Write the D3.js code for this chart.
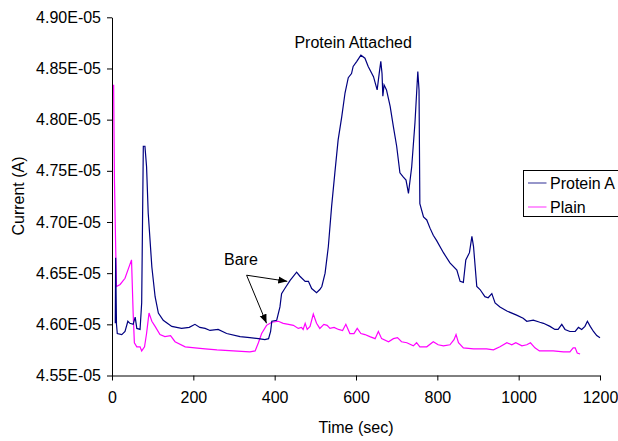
<!DOCTYPE html>
<html>
<head>
<meta charset="utf-8">
<script src="https://cdn.jsdelivr.net/npm/d3@7"></script>
<style>
  html, body { margin: 0; padding: 0; background: #fff; }
  svg { display: block; font-family: "Liberation Sans", Arial, sans-serif; }
</style>
</head>
<body>
<svg id="chart" width="618" height="441"></svg>
<script>
// ---- data (current values in units of 1e-5 A) ----
const UNIT = 1e-5;
const proteinTime = [8,9,11,13,24,32,39,44,52,57,61,69,73,77,81,85,89,98,106,114,126,147,171,190,204,216,229,241,261,282,315,339,360,376,385,390,393,405,413,417,425,438,454,462,475,483,491,503,511,516,524,532,540,548,556,565,573,581,589,593,602,612,622,630,643,652,657,661,664,666,669,675,684,692,700,708,716,723,729,737,745,752,755,757,766,774,782,790,798,815,831,848,856,864,870,879,885,889,897,905,917,925,934,942,954,971,995,1011,1020,1036,1052,1061,1077,1089,1097,1106,1114,1126,1139,1147,1155,1163,1169,1176,1184,1192,1200];
const proteinCurrent = [4.601,4.665,4.600,4.591,4.590,4.593,4.603,4.601,4.600,4.607,4.596,4.595,4.621,4.774,4.774,4.754,4.709,4.656,4.627,4.611,4.604,4.598,4.596,4.597,4.600,4.597,4.596,4.594,4.595,4.591,4.588,4.587,4.586,4.585,4.586,4.593,4.603,4.604,4.617,4.630,4.635,4.643,4.651,4.647,4.642,4.642,4.635,4.631,4.634,4.637,4.650,4.676,4.715,4.748,4.780,4.803,4.826,4.841,4.845,4.852,4.857,4.863,4.860,4.852,4.842,4.829,4.845,4.857,4.845,4.823,4.834,4.829,4.813,4.793,4.774,4.748,4.744,4.741,4.728,4.754,4.797,4.847,4.829,4.718,4.705,4.702,4.694,4.687,4.682,4.670,4.660,4.653,4.642,4.641,4.663,4.670,4.686,4.676,4.637,4.634,4.627,4.626,4.630,4.621,4.617,4.613,4.609,4.606,4.603,4.604,4.602,4.601,4.598,4.595,4.595,4.600,4.595,4.593,4.593,4.597,4.595,4.598,4.603,4.598,4.593,4.589,4.587];

const plainTime = [4,6,9,11,20,32,48,52,55,61,69,73,80,85,91,98,106,118,130,144,155,180,204,229,258,298,339,352,360,368,380,393,409,421,434,446,458,466,470,475,480,487,495,503,511,521,529,536,546,557,567,575,585,595,603,612,622,634,647,655,663,680,692,702,712,725,741,749,757,774,790,802,815,831,841,846,852,864,889,921,938,954,971,983,993,1008,1020,1029,1040,1051,1061,1085,1110,1126,1134,1139,1144,1151];
const plainCurrent = [4.834,4.741,4.676,4.637,4.639,4.645,4.663,4.611,4.582,4.578,4.578,4.574,4.578,4.591,4.611,4.603,4.598,4.590,4.588,4.589,4.583,4.578,4.577,4.576,4.575,4.574,4.573,4.574,4.582,4.591,4.599,4.602,4.603,4.601,4.600,4.599,4.596,4.597,4.595,4.601,4.595,4.598,4.610,4.601,4.596,4.600,4.599,4.596,4.597,4.595,4.594,4.600,4.591,4.591,4.596,4.591,4.590,4.588,4.586,4.593,4.586,4.583,4.586,4.587,4.583,4.582,4.579,4.582,4.578,4.578,4.583,4.580,4.579,4.580,4.585,4.590,4.582,4.577,4.576,4.576,4.575,4.578,4.582,4.580,4.582,4.579,4.580,4.582,4.577,4.574,4.574,4.574,4.573,4.573,4.577,4.577,4.572,4.571];

const xTicks = [0,200,400,600,800,1000,1200];
const yTicks = [4.55,4.60,4.65,4.70,4.75,4.80,4.85,4.90];
const seriesNames = ["Protein A","Plain"];
const seriesColors = ["#000080","#ff00ff"];

// annotations in data units
const annoTitle = {text:"Protein Attached", t:593, v:4.870};
const annoBare = {text:"Bare", t:317, v:4.658};
const bareFrom = {t:331, v:4.648};
const bareTo = [{t:431, v:4.642},{t:380, v:4.601}];

// ---- drawing ----
const svg = d3.select("#chart");
const x = d3.scaleLinear().domain([0,1200]).range([112,600]);
const y = d3.scaleLinear().domain([4.55*UNIT,4.90*UNIT]).range([375.5,17.3]);

const fmt = v => v.toFixed(2) + "E-05";

const gy = svg.append("g").attr("transform","translate(112,0)")
  .call(d3.axisLeft(y).tickValues(yTicks.map(v=>v*UNIT)).tickFormat(d=>fmt(d/UNIT)).tickSize(5).tickSizeOuter(0).tickPadding(6));
const gx = svg.append("g").attr("transform","translate(0,375.5)")
  .call(d3.axisBottom(x).tickValues(xTicks).tickFormat(d3.format("d")).tickSize(5).tickSizeOuter(0).tickPadding(10));
[gx,gy].forEach(g=>{
  g.selectAll("path.domain").attr("stroke","#000");
  g.selectAll(".tick line").attr("stroke","#000");
  g.selectAll("text").attr("font-size",16).attr("fill","#000").attr("font-family",'"Liberation Sans", Arial, sans-serif');
});
gx.selectAll("text").attr("dy","0.75em");

const series = [
  {name:seriesNames[0], color:seriesColors[0], pts: proteinTime.map((t,i)=>[t, proteinCurrent[i]*UNIT])},
  {name:seriesNames[1], color:seriesColors[1], pts: plainTime.map((t,i)=>[t, plainCurrent[i]*UNIT])}
];
const line = d3.line().x(d=>x(d[0])).y(d=>y(d[1]));
svg.append("path").datum(series[1].pts).attr("d",line).attr("fill","none").attr("stroke",series[1].color).attr("stroke-width",1.2);
svg.append("path").datum(series[0].pts).attr("d",line).attr("fill","none").attr("stroke",series[0].color).attr("stroke-width",1.2);

// axis labels
svg.append("text").attr("x",356).attr("y",433).attr("text-anchor","middle").attr("font-size",16).text("Time (sec)");
svg.append("text").attr("transform","translate(24,196) rotate(-90)").attr("text-anchor","middle").attr("font-size",16).text("Current (A)");

// annotations
svg.append("text").attr("x",x(annoTitle.t)).attr("y",y(annoTitle.v*UNIT)).attr("text-anchor","middle").attr("font-size",16).text(annoTitle.text);
svg.append("text").attr("x",x(annoBare.t)).attr("y",y(annoBare.v*UNIT)).attr("text-anchor","middle").attr("font-size",16).text(annoBare.text);

svg.append("defs").append("marker").attr("id","arr").attr("viewBox","0 0 10 10").attr("refX",10).attr("refY",5)
  .attr("markerWidth",9).attr("markerHeight",9).attr("markerUnits","userSpaceOnUse").attr("orient","auto")
  .append("path").attr("d","M0,1 L10,5 L0,9 Z").attr("fill","#000");
bareTo.forEach(p=>{
  svg.append("line").attr("x1",x(bareFrom.t)).attr("y1",y(bareFrom.v*UNIT)).attr("x2",x(p.t)).attr("y2",y(p.v*UNIT))
    .attr("stroke","#000").attr("stroke-width",1).attr("marker-end","url(#arr)");
});

// legend
const lg = svg.append("g");
lg.append("rect").attr("x",523.5).attr("y",170.5).attr("width",100).attr("height",46).attr("fill","#fff").attr("stroke","#000").attr("stroke-width",1);
series.forEach((s,i)=>{
  const cy = 183 + i*24;
  lg.append("line").attr("x1",528).attr("x2",546.5).attr("y1",cy).attr("y2",cy).attr("stroke",s.color).attr("stroke-width",1.5).attr("stroke-opacity",0.55);
  lg.append("text").attr("x",550).attr("y",cy).attr("dy","0.35em").attr("font-size",16).text(s.name);
});
</script>
</body>
</html>
